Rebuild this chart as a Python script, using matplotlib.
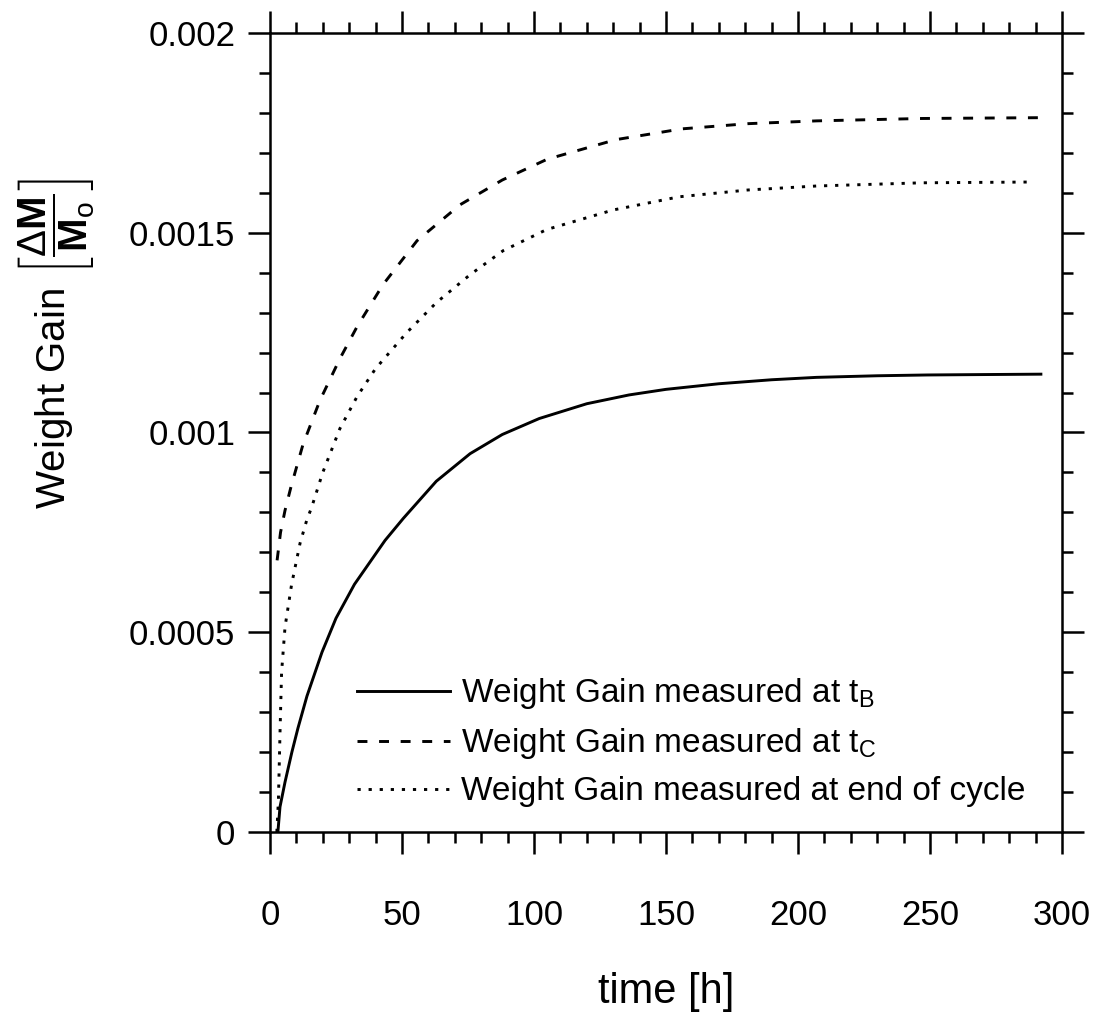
import numpy as np
import matplotlib.pyplot as plt
from matplotlib.ticker import MultipleLocator, FuncFormatter

plt.rcParams['font.family'] = ['Liberation Sans', 'DejaVu Sans']
plt.rcParams['mathtext.fontset'] = 'custom'
plt.rcParams['mathtext.rm'] = 'Liberation Sans'
plt.rcParams['mathtext.it'] = 'Liberation Sans'
plt.rcParams['mathtext.bf'] = 'Liberation Sans:bold'

# weight gain measured at t_B (solid)
t_b = [3, 3.8, 5.7, 8.3, 10.6, 14, 19.7, 25, 32, 43.6, 50.5, 63, 75.8, 88,
       102, 120, 136, 150, 170, 190, 207, 230, 249, 270, 292]
w_b = [0, 0.000063, 0.000125, 0.0002, 0.00026, 0.00034, 0.00045, 0.000535,
       0.00062, 0.00073, 0.000785, 0.000878, 0.000947, 0.000995, 0.001035,
       0.001072, 0.001094, 0.001108, 0.001122, 0.001132, 0.001138, 0.001142,
       0.001144, 0.001145, 0.001146]

# weight gain measured at t_C (dashed)
t_c = [2.7, 4, 5.7, 8, 12.5, 18.9, 26.5, 33, 42.8, 55.7, 72, 88, 105, 131,
       156, 181, 207, 247, 292]
w_c = [0.00068, 0.00075, 0.000805, 0.000865, 0.00097, 0.00108, 0.001185,
       0.001265, 0.00137, 0.00148, 0.00157, 0.001632, 0.001684, 0.001733,
       0.00176, 0.001773, 0.00178, 0.001786, 0.001788]

# weight gain measured at end of cycle (dotted)
t_e = [2.6, 3.2, 3.8, 4.4, 5.7, 8.2, 11.4, 13.9, 15.8, 20, 26.5, 33, 40,
       51.8, 63, 75.8, 88.3, 104.8, 130, 155, 181, 207, 247, 289]
w_e = [0, 0.00008, 0.000248, 0.0004, 0.000513, 0.00062, 0.000723, 0.00078,
       0.000813, 0.0009, 0.00101, 0.00109, 0.00116, 0.00125, 0.001325,
       0.001395, 0.001455, 0.001508, 0.001557, 0.00159, 0.001607, 0.001617,
       0.001625, 0.001627]

labels = [r'Weight Gain measured at $\mathregular{t_B}$',
          r'Weight Gain measured at $\mathregular{t_C}$',
          'Weight Gain measured at end of cycle']

fig = plt.figure(figsize=(10.97, 10.18), dpi=100)
ax = fig.add_axes([0.2461, 0.1827, 0.7220, 0.7849])

lw = 2.1
ax.plot(t_b, w_b, color='black', lw=lw, ls='-', label=labels[0])
ax.plot(t_c, w_c, color='black', lw=lw, ls=(0, (3.4, 4.0)), label=labels[1])
ax.plot(t_e, w_e, color='black', lw=lw, ls=(0, (1.1, 2.7)), label=labels[2])

ax.set_xlim(0, 300)
ax.set_ylim(0, 0.002)
ax.xaxis.set_major_locator(MultipleLocator(50))
ax.xaxis.set_minor_locator(MultipleLocator(10))
ax.yaxis.set_major_locator(MultipleLocator(0.0005))
ax.yaxis.set_minor_locator(MultipleLocator(0.0001))
ax.yaxis.set_major_formatter(FuncFormatter(lambda v, p: '{:g}'.format(round(v, 6))))

for spine in ax.spines.values():
    spine.set_linewidth(1.8)

ax.tick_params(which='both', direction='out', top=True, right=True,
               labeltop=False, labelright=False, width=1.8)
ax.tick_params(which='major', length=16, labelsize=25)
ax.tick_params(which='minor', length=8)
ax.tick_params(axis='x', which='major', pad=32)
ax.tick_params(axis='y', which='major', pad=9)

ax.set_xlabel('time [h]', fontsize=30)
ax.xaxis.set_label_coords(0.5, -0.2)
ax.xaxis.label.set_va('center')

ax.set_ylabel(r'Weight Gain $\left[\dfrac{\Delta \mathbf{M}}{\mathbf{M}_\mathregular{o}}\right]$',
              fontsize=29)
ax.yaxis.set_label_coords(-0.27, 0.611)
ax.yaxis.label.set_va('center')

leg = ax.legend(loc='lower left', bbox_to_anchor=(0.11, 0.031), frameon=False,
                fontsize=24, handlelength=2.8, handletextpad=0.32,
                labelspacing=0.45, borderpad=0, borderaxespad=0)

fig.savefig('out.png', dpi=100)
